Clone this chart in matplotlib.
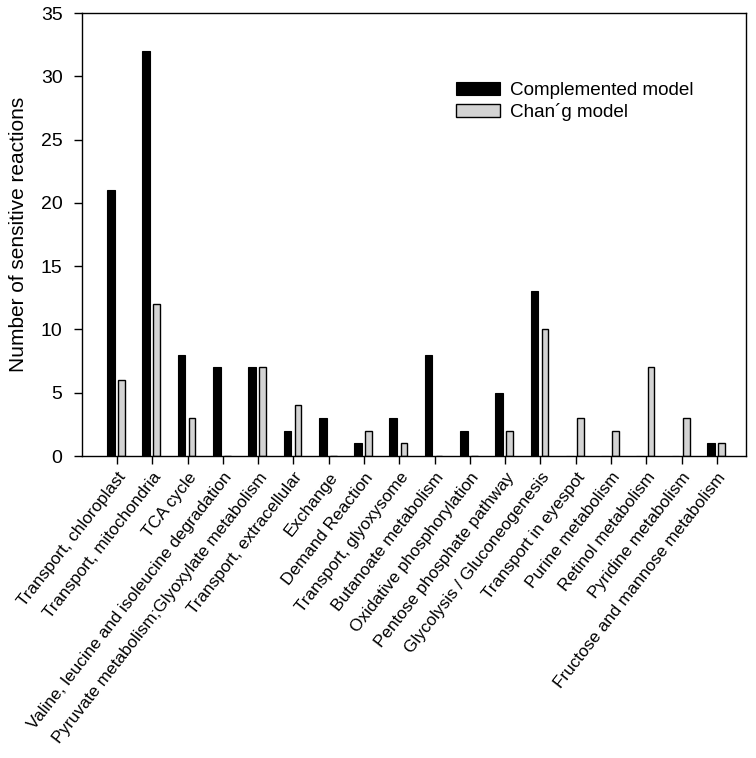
import numpy as np
import matplotlib.pyplot as plt

plt.rcParams["font.family"] = ["Liberation Sans", "DejaVu Sans"]

# ─── Data ─────────────────────────────────────────────────────────────────────
categories = [
    "Transport, chloroplast", "Transport, mitochondria", "TCA cycle",
    "Valine, leucine and isoleucine degradation",
    "Pyruvate metabolism;Glyoxylate metabolism", "Transport, extracellular",
    "Exchange", "Demand Reaction", "Transport, glyoxysome",
    "Butanoate metabolism", "Oxidative phosphorylation",
    "Pentose phosphate pathway", "Glycolysis / Gluconeogenesis",
    "Transport in eyespot", "Purine metabolism", "Retinol metabolism",
    "Pyridine metabolism", "Fructose and mannose metabolism",
]
complemented = [21, 32, 8, 7, 7, 2, 3, 1, 3, 8, 2, 5, 13, 0, 0, 0, 0, 1]
chang = [6, 12, 3, 0, 7, 4, 0, 2, 1, 0, 0, 2, 10, 3, 2, 7, 3, 1]

# ─── Plot ─────────────────────────────────────────────────────────────────────
fig = plt.figure(figsize=(7.56, 7.58), dpi=100)
ax = fig.add_axes([0.1085, 0.3984, 0.878, 0.5844])

x = np.arange(len(categories))
ax.bar(x - 0.17, complemented, width=0.22, color="black", edgecolor="black",
       linewidth=0.8, label="Complemented model")
ax.bar(x + 0.13, chang, width=0.19, color="#d3d3d3", edgecolor="black",
       linewidth=1.0, label="Chan\u00b4g model")

ax.set_xlim(-0.99, 17.82)
ax.set_ylim(0, 35)
ax.set_yticks(range(0, 36, 5))
ax.set_xticks(x)
ax.set_xticklabels(categories, rotation=52, ha="right", va="top",
                   rotation_mode="anchor", fontsize=12.3)
ax.tick_params(axis="y", labelsize=14, direction="out", length=6, width=1,
               pad=8)
ax.tick_params(axis="x", direction="out", length=6, width=1, pad=4)
for sp in ax.spines.values():
    sp.set_linewidth(1)
ax.set_ylabel("Number of sensitive reactions", fontsize=15, labelpad=9)

ax.legend(loc="upper left", bbox_to_anchor=(0.549, 0.865), frameon=False,
          fontsize=13.6, handlelength=2.33, handleheight=0.63,
          handletextpad=0.55, labelspacing=0.2, borderpad=0)

plt.savefig("out.png", dpi=100)
